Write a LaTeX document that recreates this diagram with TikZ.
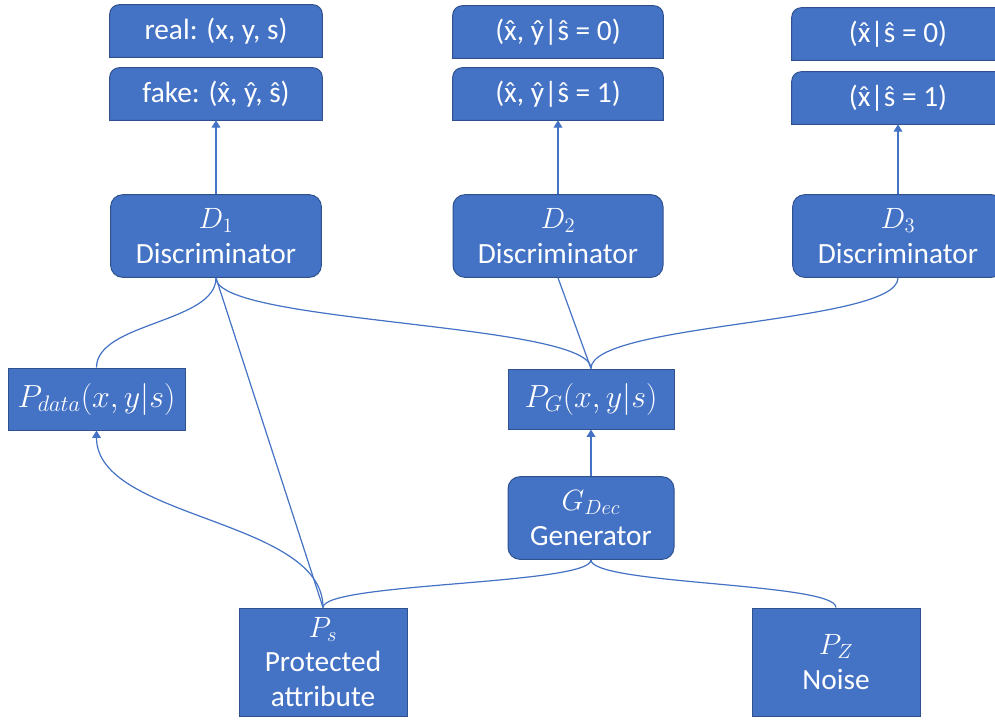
\RequirePackage{fix-cm}
\documentclass[tikz,border=0pt]{standalone}
\usepackage{fontspec}
\setmainfont{Carlito}
\usetikzlibrary{arrows.meta,backgrounds}
\definecolor{boxblue}{HTML}{4472C4}
\definecolor{edgeblue}{HTML}{2F528F}
% x with a circumflex: the font has no combining mark, so stack the spacing one
\newcommand\hatx{{\ooalign{x\cr\hidewidth\char"02C6\hidewidth\cr}}}
\begin{document}
\begin{tikzpicture}[x=0.75pt,y=-0.75pt,
  txt/.style={text=white,align=center,font=\fontsize{22}{26}\selectfont,inner sep=0pt},
  rbox/.style={txt,fill=boxblue,draw=edgeblue,line width=0.75pt,rounded corners=9pt},
  sbox/.style={txt,fill=boxblue,draw=edgeblue,line width=0.75pt},
  tabbox/.style={txt,minimum height=39pt},
  link/.style={draw=boxblue,line width=0.9pt},
  arr/.style={link,-{Triangle[width=6.5pt,length=5.5pt]}},
  bigmath/.style={font=\fontsize{24}{28}\selectfont},
]
\useasboundingbox (0,0) rectangle (995,719);

% outcome labels (tabs with rounded top corners)
\node[tabbox,minimum width=159pt] (real) at (216,31) {real: (x, y, s)};
\node[tabbox,minimum width=159pt] (fake) at (216,94) {fake: (\hatx, \^y, \^s)};
\node[tabbox,minimum width=157.5pt] (m0) at (558,32) {(\hatx, \^y|\^s = 0)};
\node[tabbox,minimum width=157.5pt] (m1) at (558,94) {(\hatx, \^y|\^s = 1)};
\node[tabbox,minimum width=159pt] (r0) at (898,34) {(\hatx|\^s = 0)};
\node[tabbox,minimum width=159pt] (r1) at (898,98) {(\hatx|\^s = 1)};

% discriminators
\node[rbox,minimum width=158pt,minimum height=62pt] (d1) at (216,236) {$D_1$\\Discriminator};
\node[rbox,minimum width=157.5pt,minimum height=62pt] (d2) at (558,236) {$D_2$\\Discriminator};
\node[rbox,minimum width=158pt,minimum height=62pt] (d3) at (898,236) {$D_3$\\Discriminator};

% distributions
\node[sbox,bigmath,minimum width=132.75pt,minimum height=46.5pt] (pdata) at (96.5,399) {$P_{data}(x,y|s)$};
\node[sbox,bigmath,minimum width=124.5pt,minimum height=45pt] (pg) at (591,399) {$P_G(x,y|s)$};

% generator
\node[rbox,minimum width=124.5pt,minimum height=62pt] (gdec) at (591,518) {$G_{Dec}$\\Generator};

% inputs
\node[sbox,minimum width=126pt,minimum height=81pt] (ps) at (323,662) {$P_s$\\Protected\\attribute};
\node[sbox,minimum width=126pt,minimum height=81pt] (pz) at (836,662) {$P_Z$\\Noise};

\begin{scope}[on background layer]
  \fill[white] (0,0) rectangle (995,719);
  \foreach \n in {real,fake,m0,m1,r0,r1}{
    \filldraw[fill=boxblue,draw=edgeblue,line width=0.75pt]
      (\n.south west) -- ([yshift=-7pt]\n.north west)
      arc[start angle=180,end angle=90,radius=7pt]
      -- ([xshift=-7pt]\n.north east)
      arc[start angle=90,end angle=0,radius=7pt]
      -- (\n.south east) -- cycle;
  }
\end{scope}

% discriminator outputs
\draw[arr] (d1.north) -- (fake.south);
\draw[arr] (d2.north) -- (m1.south);
\draw[arr] (d3.north) -- (r1.south);

% discriminator inputs
\draw[link] (d1.south) .. controls +(0,45) and +(0,-45) .. (pdata.north);
\draw[link] (d1.south) -- (ps.north);
\draw[link] (d1.south) .. controls +(0,46) and +(0,-46) .. (pg.north);
\draw[link] (d2.south) -- (pg.north);
\draw[link] (d3.south) .. controls +(0,46) and +(0,-46) .. (pg.north);

% generator path
\draw[arr] (gdec.north) -- (pg.south);
\draw[link] (gdec.south) .. controls +(0,25) and +(0,-25) .. (ps.north);
\draw[link] (gdec.south) .. controls +(0,25) and +(0,-25) .. (pz.north);

% real data conditioned on the protected attribute
\draw[arr] (ps.north) .. controls +(0,-89) and +(0,89) .. (pdata.south);
\end{tikzpicture}
\end{document}
